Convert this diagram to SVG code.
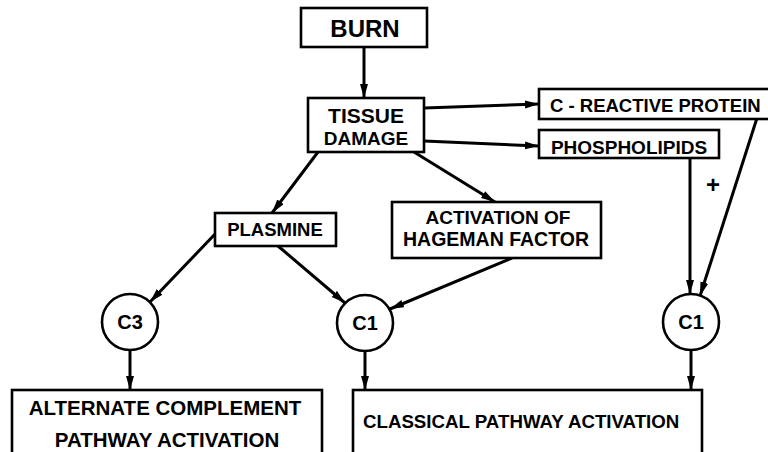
<svg xmlns="http://www.w3.org/2000/svg" width="768" height="452" viewBox="0 0 768 452">
<style>
.box{fill:#fff;stroke:#000;stroke-width:2.6}
.circ{fill:#fff;stroke:#000;stroke-width:2.6}
.t{font-family:"Liberation Sans",Arial,Helvetica,sans-serif;font-weight:bold;fill:#000}
.m{text-anchor:middle}
.edge{stroke:#000;stroke-width:3;fill:none;marker-end:url(#ah)}
</style>
<defs>
<marker id="ah" markerUnits="userSpaceOnUse" markerWidth="16" markerHeight="10" refX="14" refY="4" orient="auto">
<path d="M0,0 L14,4 L0,8 z" fill="#000"/>
</marker>
</defs>
<rect width="768" height="452" fill="#fff"/>
<g id="connectors">
<line class="edge" x1="364" y1="47" x2="364" y2="98"/>
<line class="edge" x1="424" y1="108" x2="539" y2="104"/>
<line class="edge" x1="424" y1="141" x2="539" y2="146"/>
<line class="edge" x1="318" y1="152" x2="272" y2="213"/>
<line class="edge" x1="414" y1="152" x2="495" y2="202"/>
<line class="edge" x1="217" y1="232" x2="150" y2="302"/>
<line class="edge" x1="278" y1="246" x2="345" y2="303"/>
<line class="edge" x1="512" y1="258" x2="390" y2="309"/>
<line class="edge" x1="690" y1="158" x2="690" y2="294"/>
<line class="edge" x1="757" y1="118" x2="700" y2="296"/>
<line class="edge" x1="130" y1="350" x2="130" y2="390"/>
<line class="edge" x1="365" y1="351" x2="365" y2="390"/>
<line class="edge" x1="691" y1="351" x2="691" y2="390"/>
<text class="t m" x="713" y="193" font-size="24">+</text>
</g>
<g id="burn">
<rect class="box" x="301" y="8" width="126" height="39"/>
<text class="t m" x="365" y="37" font-size="24">BURN</text>
</g>
<g id="tissue">
<rect class="box" x="308" y="98" width="116" height="54"/>
<text class="t m" x="366" y="123" font-size="21">TISSUE</text>
<text class="t m" x="366" y="145" font-size="19">DAMAGE</text>
</g>
<g id="crp">
<rect class="box" x="539" y="89" width="235" height="30"/>
<text class="t" x="550" y="112" font-size="18.5">C - REACTIVE PROTEIN</text>
</g>
<g id="phospholipids">
<rect class="box" x="539" y="130" width="180" height="28"/>
<text class="t m" x="629" y="154" font-size="19">PHOSPHOLIPIDS</text>
</g>
<g id="plasmine">
<rect class="box" x="215" y="213" width="121" height="33"/>
<text class="t m" x="275" y="236" font-size="18.5">PLASMINE</text>
</g>
<g id="hageman">
<rect class="box" x="392" y="202" width="209" height="56"/>
<text class="t m" x="498" y="224" font-size="19">ACTIVATION OF</text>
<text class="t m" x="496" y="246" font-size="19.5">HAGEMAN FACTOR</text>
</g>
<g id="c3">
<circle class="circ" cx="130" cy="322" r="28"/>
<text class="t m" x="130" y="329" font-size="20">C3</text>
</g>
<g id="c1mid">
<circle class="circ" cx="365" cy="323" r="28"/>
<text class="t m" x="365" y="330" font-size="20">C1</text>
</g>
<g id="c1right">
<circle class="circ" cx="691" cy="322" r="28"/>
<text class="t m" x="691" y="329" font-size="20">C1</text>
</g>
<g id="alternate">
<rect class="box" x="12" y="390" width="310" height="70"/>
<text class="t m" x="165" y="415" font-size="20.5">ALTERNATE COMPLEMENT</text>
<text class="t m" x="167" y="447" font-size="20.5">PATHWAY ACTIVATION</text>
</g>
<g id="classical">
<rect class="box" x="353" y="390" width="349" height="70"/>
<text class="t" x="363" y="428" font-size="18.7">CLASSICAL PATHWAY ACTIVATION</text>
</g>
</svg>
